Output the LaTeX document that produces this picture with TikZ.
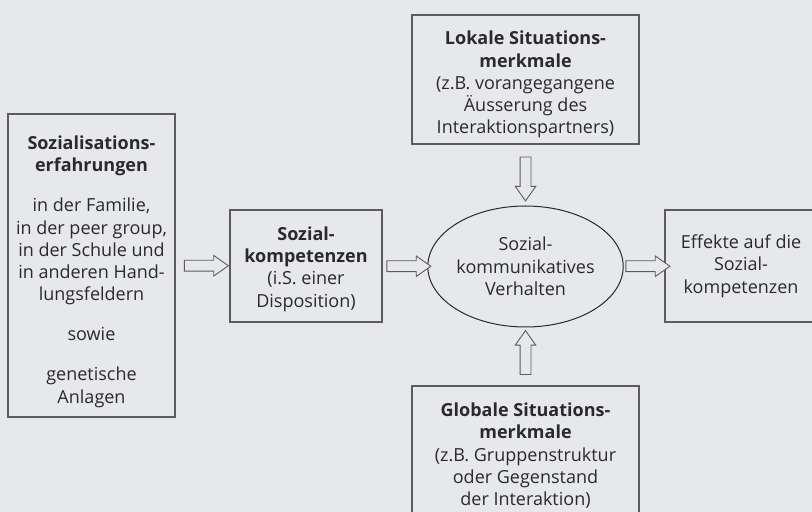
\documentclass[tikz,border=0pt]{standalone}
\usepackage{fontspec}
\setmainfont{Open Sans}
\usetikzlibrary{shapes.geometric,shapes.arrows,calc}
\definecolor{paper}{RGB}{231,232,233}
\definecolor{frame}{RGB}{92,92,94}
\definecolor{ink}{RGB}{42,42,44}
\newcommand{\padtop}[1]{\rule{0pt}{#1}}
\begin{document}
\begin{tikzpicture}[
 x=0.5pt,y=-0.5pt,
 every node/.style={font=\fontsize{9}{11.15}\selectfont,align=center,text=ink},
 box/.style={draw=frame,line width=0.65pt,inner sep=0pt},
 hollow/.style={single arrow,draw=frame,fill=paper,line width=0.45pt,inner sep=0pt,inner ysep=2.5pt,minimum height=22pt,single arrow head extend=2.4pt,single arrow tip angle=70}
]
\useasboundingbox (0,0) rectangle (812,512);
\clip (0,0) rectangle (812,512);
\fill[paper] (0,0) rectangle (812,512);
\node[box,minimum width=83.5pt,minimum height=151.5pt] (erf) at (91.5,265.5) {\padtop{13pt}\textbf{Sozialisations-}\\\textbf{erfahrungen}\\[8.8pt]in der Familie,\\in der peer group,\\in der Schule und\\in anderen Hand-\\lungsfeldern\\[8.8pt]sowie\\[8.8pt]genetische\\Anlagen};
\node[box,minimum width=76pt,minimum height=56pt] (komp) at (306,266) {\padtop{10pt}\textbf{Sozial-}\\\textbf{kompetenzen}\\(i.S. einer\\Disposition)};
\node[ellipse,draw=ink,line width=0.5pt,inner sep=0pt,minimum width=83.5pt,minimum height=60.5pt] (verh) at (525.5,266.5) {Sozial-\\kommunikatives\\Verhalten};
\node[box,minimum width=76pt,minimum height=56pt] (eff) at (741,266) {Effekte auf die\\Sozial-\\kompetenzen};
\node[box,minimum width=113.5pt,minimum height=64.5pt] (lok) at (525.5,79.5) {\padtop{12pt}\textbf{Lokale Situations-}\\\textbf{merkmale}\\(z.B. vorangegangene\\Äusserung des\\Interaktionspartners)};
\node[box,minimum width=113.5pt,minimum height=64.5pt] (glob) at (525.5,450.5) {\padtop{12pt}\textbf{Globale Situations-}\\\textbf{merkmale}\\(z.B. Gruppenstruktur\\oder Gegenstand\\der Interaktion)};
% hollow block arrows between the boxes
\node[hollow] (a1) at ($(erf.east)!.5!(komp.west)$) {};
\node[hollow] (a2) at ($(komp.east)!.5!(verh.west)$) {};
\node[hollow] (a3) at ($(verh.east)!.5!(eff.west)$) {};
\node[hollow,rotate=-90] (a4) at ($(lok.south)!.5!(verh.north)$) {};
\node[hollow,rotate=90] (a5) at ($(glob.north)!.5!(verh.south)$) {};
\end{tikzpicture}
\end{document}
